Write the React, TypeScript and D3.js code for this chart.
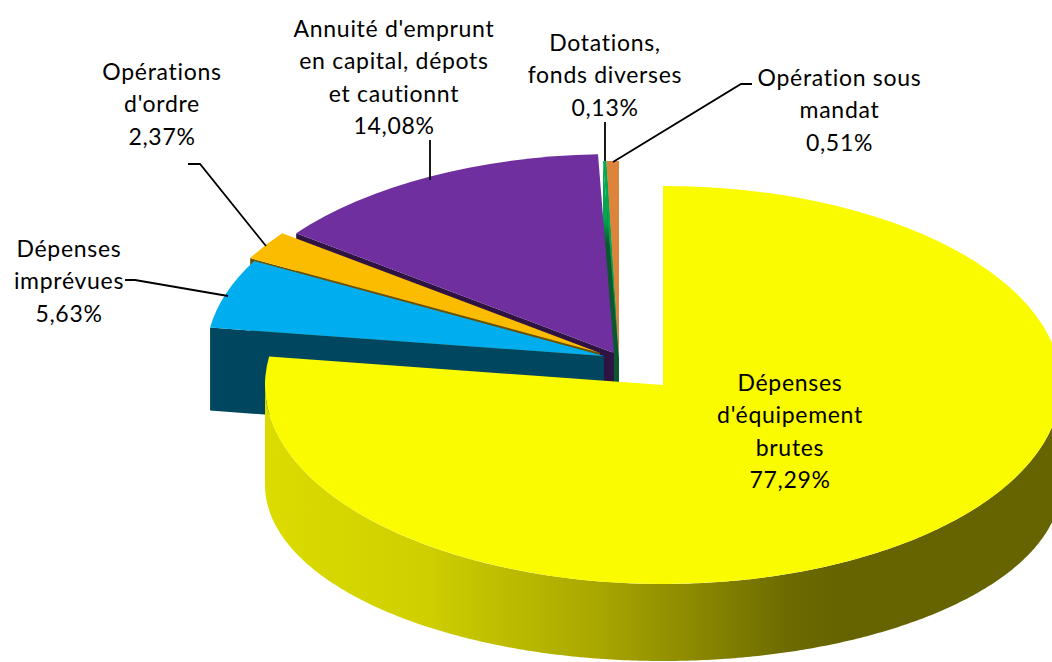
import React, { useEffect, useRef } from "react";
import * as d3 from "d3";

const names = [
  ["Dépenses", "d'équipement", "brutes"],
  ["Dépenses", "imprévues"],
  ["Opérations", "d'ordre"],
  ["Annuité d'emprunt", "en capital, dépots", "et cautionnt"],
  ["Dotations,", "fonds diverses"],
  ["Opération sous", "mandat"],
];
const shares = [77.29, 5.63, 2.37, 14.08, 0.13, 0.51];

const topColors = ["#fbfb00", "#00aeef", "#fbbc00", "#6f2f9f", "#00a850", "#dc843c"];
const wallColors = ["#6b6900", "#00465f", "#6b5200", "#2f1443", "url(#greenWall)", "#6b3f1c"];

// pull-out of each slice from the pie centre, in px
const explodeX = [24, -35, -39, -25, -20, -20];
const explodeY = [14, -15, -18, -18, -11, -11];

// back to front
const drawOrder = [5, 4, 3, 2, 1, 0];

const labelX = [790, 69, 162, 394, 605, 839.5];
const labelY = [391, 257, 80, 37, 51, 86];

const leaders: [number, number][][] = [
  [],
  [[125, 280], [135, 280], [228, 296]],
  [[188, 164], [200, 164], [266, 246]],
  [[430, 140], [430, 180]],
  [[605, 122], [605, 161]],
  [[752, 84], [741, 84], [613, 162]],
];

const wallStops = [
  ["0%", "#dcdc00"],
  ["20%", "#cfcf00"],
  ["42%", "#a8a600"],
  ["56%", "#868400"],
  ["66%", "#6c6a00"],
  ["72%", "#666400"],
  ["100%", "#666400"],
];

const greenStops = [
  ["0%", "#00a850"],
  ["70%", "#00a850"],
  ["100%", "#0a5730"],
];

const width = 1052;
const height = 662;
const cx = 639;
const cy = 371;
const rx = 398;
const ry = 199;
const depth = 83;
// the lower rim is flatter than the top face (perspective)
const rimDrop = 100;
const rimRy = 176;

const App = () => {
  const ref = useRef<SVGSVGElement>(null);

  useEffect(() => {
    const svg = d3.select(ref.current);
    svg.selectAll("*").remove();

    const defs = svg.append("defs");
    const grad = defs
      .append("linearGradient")
      .attr("id", "wall")
      .attr("gradientUnits", "userSpaceOnUse")
      .attr("x1", cx + explodeX[0] - rx)
      .attr("x2", cx + explodeX[0] + rx)
      .attr("y1", 0)
      .attr("y2", 0);
    wallStops.forEach(([o, c]) => grad.append("stop").attr("offset", o).attr("stop-color", c));

    const greenGrad = defs
      .append("linearGradient")
      .attr("id", "greenWall")
      .attr("gradientUnits", "userSpaceOnUse")
      .attr("x1", 0)
      .attr("x2", 0)
      .attr("y1", cy + explodeY[4] - ry)
      .attr("y2", cy + explodeY[4] - ry + depth);
    greenStops.forEach(([o, c]) =>
      greenGrad.append("stop").attr("offset", o).attr("stop-color", c)
    );

    const pie = d3.pie<number>().sort(null).value((d) => d);
    const arcs = pie(shares);
    const arc = d3.arc<d3.PieArcDatum<number>>().innerRadius(0).outerRadius(rx);
    const line = d3.line();

    drawOrder.forEach((i) => {
      const a = arcs[i];
      const x0 = cx + explodeX[i];
      const y0 = cy + explodeY[i];
      const ox = x0 + rx * Math.sin(a.startAngle);
      const oy = y0 - ry * Math.cos(a.startAngle);

      if (i === 0) {
        // rim of the big slice, front half of the ellipse
        const angles = d3.range(Math.PI / 2, (Math.PI * 3) / 2 + 0.005, 0.01);
        const rim = d3
          .area<number>()
          .x((t) => x0 + rx * Math.sin(t))
          .y0((t) => y0 - ry * Math.cos(t))
          .y1((t) => y0 + rimDrop - rimRy * Math.cos(t));
        svg.append("path").attr("d", rim(angles)).attr("fill", "url(#wall)");
      } else {
        // cut face along the slice's start edge
        svg
          .append("path")
          .attr("d", line([[ox, oy], [x0, y0], [x0, y0 + depth], [ox, oy + depth]]) + "Z")
          .attr("fill", wallColors[i]);
      }

      svg
        .append("path")
        .attr("d", arc(a))
        .attr("transform", `translate(${x0},${y0}) scale(1,${ry / rx})`)
        .attr("fill", topColors[i]);
    });

    leaders.forEach((pts) => {
      if (!pts.length) return;
      svg
        .append("path")
        .attr("d", line(pts))
        .attr("fill", "none")
        .attr("stroke", "#000")
        .attr("stroke-width", 1.8);
    });

    names.forEach((lines, i) => {
      const text = svg
        .append("text")
        .attr("text-anchor", "middle")
        .attr("font-family", "Lato, sans-serif")
        .attr("font-size", 23)
        .attr("letter-spacing", 0.7)
        .attr("fill", "#000");
      [...lines, shares[i].toFixed(2).replace(".", ",") + "%"].forEach((s, j) => {
        text
          .append("tspan")
          .attr("x", labelX[i])
          .attr("y", labelY[i] + j * 32.3)
          .text(s);
      });
    });
  }, []);

  return (
    <svg
      ref={ref}
      width={width}
      height={height}
      style={{ position: "absolute", left: 0, top: 0, background: "#fff" }}
    />
  );
};

export default App;
